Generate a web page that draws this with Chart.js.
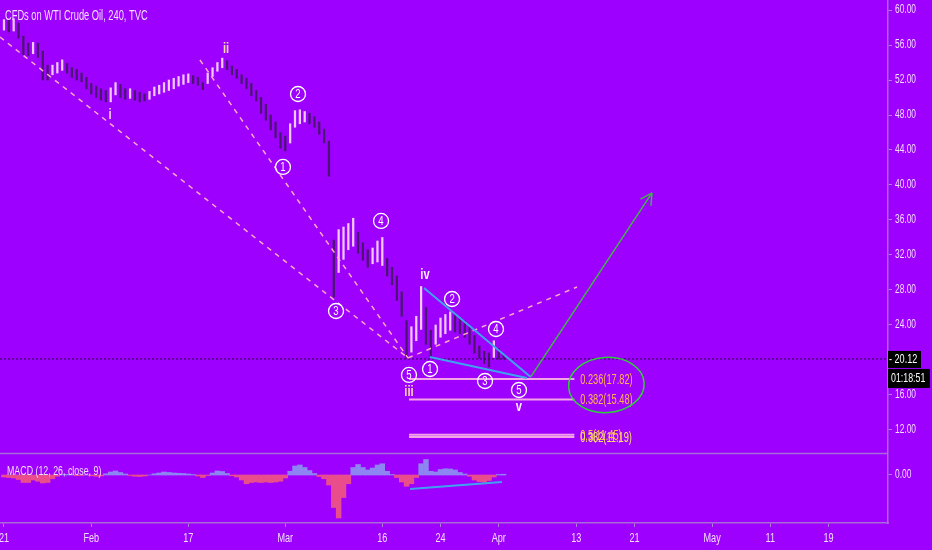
<!DOCTYPE html>
<html>
<head>
<meta charset="utf-8">
<script src="https://cdn.jsdelivr.net/npm/chart.js@4.4.1/dist/chart.umd.min.js"></script>
<style>
  html, body { margin: 0; padding: 0; background: #9d00ff; }
  canvas { display: block; }
</style>
</head>
<body>
<canvas id="myChart" width="932" height="550"></canvas>
<script>
// trading-day index (0 = Jan 21), two bars per day
const days = [
  0, 0.5, 1, 1.5, 2, 2.5, 3, 3.5, 4, 4.5,
  5, 5.5, 6, 6.5, 7, 7.5, 8, 8.5, 9, 9.5,
  10, 10.5, 11, 11.5, 12, 12.5, 13, 13.5, 14, 14.5,
  15, 15.5, 16, 16.5, 17, 17.5, 18, 18.5, 19, 19.5,
  20, 20.5, 21, 21.5, 22, 22.5, 23, 23.5, 24, 24.5,
  25, 25.5, 26, 26.5, 27, 27.5, 28, 28.5, 29, 29.5,
  30, 30.5, 31, 31.5, 32, 32.5, 33, 33.5, 34, 34.5,
  35, 35.5, 36, 36.5, 37, 37.5, 38, 38.5, 39, 39.5,
  40, 40.5, 41, 41.5, 42, 42.5, 43, 43.5, 44, 44.5,
  45, 45.5, 46, 46.5, 47, 47.5, 48, 48.5, 49, 49.5,
  50, 50.5, 51, 51.5
];
const lows = [
  57.7, 57.5, 57.6, 56.8, 54.9, 54.8, 55.0, 54.6, 52.0, 52.0,
  52.6, 52.8, 53.1, 52.8, 52.3, 52.0, 51.8, 51.0, 50.4, 50.0,
  49.7, 49.5, 49.5, 50.3, 50.0, 49.8, 49.9, 49.7, 49.5, 49.6,
  49.8, 50.2, 50.4, 50.6, 50.8, 51.0, 51.3, 51.5, 51.7, 51.6,
  51.4, 50.9, 51.6, 52.4, 53.0, 53.4, 53.2, 52.6, 52.2, 51.6,
  51.0, 50.2, 49.6, 48.2, 47.4, 46.3, 45.4, 44.2, 43.9, 44.8,
  46.6, 47.0, 47.2, 47.0, 46.6, 45.8, 44.8, 41.0, 27.2, 30.0,
  31.5, 32.6, 33.0, 32.2, 31.4, 30.6, 31.0, 31.2, 30.8, 29.6,
  28.6, 26.8, 25.0, 20.2, 20.9, 22.2, 23.5, 21.8, 20.4, 21.8,
  22.6, 23.0, 23.4, 23.2, 23.0, 22.6, 21.8, 20.8, 20.2, 19.6,
  19.2, 20.3, 20.1, 20.1
];
const highs = [
  58.9, 58.9, 59.0, 58.5, 57.0, 56.2, 56.3, 56.2, 55.3, 53.7,
  53.7, 54.0, 54.3, 53.9, 53.4, 53.2, 52.8, 52.3, 51.6, 51.3,
  51.0, 50.8, 51.1, 51.7, 51.5, 51.0, 51.0, 50.8, 50.6, 50.4,
  50.7, 51.2, 51.4, 51.7, 52.0, 52.2, 52.4, 52.6, 52.7, 52.5,
  52.3, 51.7, 52.8, 53.4, 54.0, 54.5, 54.2, 53.6, 53.2, 52.6,
  52.2, 51.6, 50.8, 50.0, 49.2, 48.0, 47.2, 46.0, 45.6, 47.0,
  48.5, 48.6, 48.4, 48.2, 47.8, 47.2, 46.4, 45.0, 33.7, 34.9,
  35.2, 35.6, 36.2, 34.6, 33.4, 32.6, 32.8, 33.6, 34.0, 31.6,
  30.6, 29.6, 27.8, 24.5, 23.8, 25.0, 28.4, 26.0, 23.4, 24.0,
  24.8, 25.2, 25.5, 25.2, 24.8, 24.5, 23.8, 22.8, 21.6, 21.0,
  20.8, 22.2, 21.3, 20.6
];
// MACD histogram (12, 26, close, 9)
const macdHist = [
  -0.08, -0.1, -0.12, -0.18, -0.3, -0.3, -0.2, -0.25, -0.32, -0.3,
  -0.15, -0.05, 0.02, 0.03, 0.02, -0.03, -0.02, 0.0, -0.03, -0.05,
  -0.04, 0.05, 0.12, 0.16, 0.1, 0.04, -0.02, -0.05, -0.06, -0.04,
  0.0, 0.05, 0.08, 0.12, 0.1, 0.08, 0.07, 0.06, 0.04, 0.02,
  -0.04, -0.1, -0.02, 0.08, 0.16, 0.14, 0.06, -0.03, -0.08, -0.2,
  -0.35, -0.3, -0.28, -0.3, -0.28, -0.3, -0.28, -0.25, -0.12, 0.15,
  0.36, 0.4, 0.3, 0.18, 0.06, -0.06, -0.15, -0.4, -1.3, -1.72,
  -0.9, -0.35, 0.3, 0.42, 0.3, 0.2, 0.28, 0.4, 0.45, 0.15,
  0.02, -0.1, -0.28, -0.45, -0.35, -0.1, 0.45, 0.62, 0.15, 0.12,
  0.22, 0.25, 0.24, 0.2, 0.1, 0.04, -0.05, -0.2, -0.26, -0.28,
  -0.22, -0.08, 0.02, 0.03
];

const tickDays = [0, 9, 19, 29, 39, 45, 51, 59, 65, 73, 79, 85];
const tickLabels = ['21', 'Feb', '17', 'Mar', '16', '24', 'Apr', '13', '21', 'May', '11', '19'];
const priceTicks = [60, 56, 52, 48, 44, 40, 36, 32, 28, 24, 16, 12];
const lastPrice = 20.12;
const countdown = '01:18:51';

// fibonacci levels (label, price)
const fibLevels = [
  ['0.236(17.82)', 17.82],
  ['0.382(15.48)', 15.48],
  ['0.5(11.45)', 11.45],
  ['0.382(11.19)', 11.19]
];
// elliott wave labels [day, price, text]
const circled = [
  [28.76, 42.06, '1'], [30.31, 50.4, '2'], [34.23, 25.6, '3'], [38.87, 35.89, '4'], [41.75, 18.29, '5'],
  [43.92, 18.97, '1'], [46.19, 26.97, '2'], [49.59, 17.6, '3'], [50.72, 23.54, '4'], [53.09, 16.57, '5']
];
const roman = [
  [10.93, 48.0, 'i', '#f6d2f2'], [22.89, 55.5, 'ii', '#ffd9b0'], [41.75, 16.3, 'iii', '#ffd9b0'],
  [43.4, 29.7, 'iv', '#fff0ff'], [53.09, 14.6, 'v', '#fff0ff']
];

const PX_MIN = -0.41, PX_MAX = 91.13;
const P_MIN = 1.371, P_MAX = 61.143;
const M_MIN = -1.92, M_MAX = 19;
const macdZero = P_MAX - (M_MAX / (M_MAX - M_MIN)) * (P_MAX - P_MIN);

const FONT = '"Liberation Sans", Arial, sans-serif';
const TXT = '#f3dcff';

const barColors = days.map((d, i) => {
  if (i === 0) return '#f2c9ff';
  const mid = (lows[i] + highs[i]) / 2, prev = (lows[i - 1] + highs[i - 1]) / 2;
  return mid >= prev ? '#f2c9ff' : '#4a1470';
});
const histColors = macdHist.map(v => v >= 0 ? '#8d86f2' : '#ea4d8c');

// tradingview uses a narrow face, squeeze the text horizontally
function narrowText(ctx, text, x, y, size, color, opts) {
  opts = opts || {};
  ctx.save();
  ctx.font = (opts.bold ? 'bold ' : '') + size + 'px ' + FONT;
  ctx.fillStyle = color;
  ctx.textBaseline = 'middle';
  ctx.textAlign = opts.align || 'left';
  ctx.translate(x, y);
  ctx.scale(opts.sx || 0.72, 1);
  ctx.fillText(text, 0, 0);
  ctx.restore();
}

const wavePlugin = {
  id: 'waves',
  afterDatasetsDraw(chart) {
    const ctx = chart.ctx;
    const { x, y, y2 } = chart.scales;
    const area = chart.chartArea;
    const px = d => x.getPixelForValue(d);
    const py = v => y.getPixelForValue(v);
    const line = (a, b, c, d, color, w, dash) => {
      ctx.save();
      ctx.strokeStyle = color; ctx.lineWidth = w; ctx.setLineDash(dash || []);
      ctx.beginPath(); ctx.moveTo(a, b); ctx.lineTo(c, d); ctx.stroke();
      ctx.restore();
    };

    // pane separator
    const sep = Math.round(y2.getPixelForValue(0.88)) + 0.5;
    line(area.left, sep, area.right, sep, '#a86bd6', 1.5);

    // last price dotted line
    line(area.left, py(lastPrice), area.right, py(lastPrice), '#2a0040', 1, [2, 2]);

    // dashed wave channel lines
    const dash = 'rgba(255,178,190,0.95)';
    line(px(-0.41), py(56.91), px(41.65), py(20.23), dash, 1.5, [5, 5]);
    line(px(20.2), py(54.29), px(41.65), py(20.23), dash, 1.5, [5, 5]);
    line(px(41.65), py(20.23), px(59.07), py(28.34), dash, 1.5, [5, 5]);

    // fibonacci lines and labels
    const fibColors = ['#ffb54d', '#ffb54d', '#ffc640', '#ffe070'];
    fibLevels.forEach(([label, v], i) => {
      line(px(41.75), py(v), px(58.8), py(v), '#f3a3e6', 2);
      narrowText(ctx, label, px(59.4), py(v) + 1, 14, fibColors[i], { sx: 0.66 });
    });

    // ending diagonal (blue)
    line(px(43.3), py(28.23), px(54.3), py(18.06), '#3fa2ee', 2);
    line(px(43.9), py(20.34), px(53.9), py(17.94), '#3fa2ee', 2);

    // green projection arrow
    const ax = px(54.3), ay = py(18.06), bx = px(66.8), by = py(39.09);
    line(ax, ay, bx, by, '#44b04c', 1.5);
    const ang = Math.atan2(by - ay, bx - ax);
    [0.5, -0.5].forEach(o => {
      line(bx, by, bx - 13 * Math.cos(ang + o), by - 13 * Math.sin(ang + o), '#44b04c', 1.5);
    });

    // hand drawn ellipse around fib targets
    ctx.save();
    ctx.strokeStyle = '#2fcf3a'; ctx.lineWidth = 1.5;
    ctx.beginPath();
    const ex = px(62.1), ey = py(17.14);
    ctx.ellipse(ex, ey, px(62.1) - px(58.2), py(17.14) - py(20.3), -0.06, 0, Math.PI * 2);
    ctx.stroke();
    ctx.restore();

    // circled sub-wave numbers
    circled.forEach(([d, v, t]) => {
      const cx = px(d), cy = py(v);
      ctx.save();
      ctx.strokeStyle = '#ffffff'; ctx.lineWidth = 1.3;
      ctx.beginPath(); ctx.arc(cx, cy, 7.5, 0, Math.PI * 2); ctx.stroke();
      ctx.restore();
      narrowText(ctx, t, cx, cy + 0.5, 12, '#ffffff', { align: 'center', sx: 0.8 });
    });

    // roman wave labels
    roman.forEach(([d, v, t, c]) => {
      narrowText(ctx, t, px(d), py(v), 14, c, { align: 'center', bold: true, sx: 0.8 });
    });

    // MACD divergence line
    line(px(41.86), y2.getPixelForValue(-0.56), px(51.34), y2.getPixelForValue(-0.28), '#3fa2ee', 2);

    // titles
    narrowText(ctx, 'CFDs on WTI Crude Oil, 240, TVC', 5, 16, 15, TXT, { sx: 0.62 });
    narrowText(ctx, 'MACD (12, 26, close, 9)', 7, 471, 13, TXT, { sx: 0.68 });
  },
  afterDraw(chart) {
    const ctx = chart.ctx;
    const { x, y } = chart.scales;
    const area = chart.chartArea;

    // axis labels from the scales' own ticks
    y.ticks.forEach(t => {
      narrowText(ctx, t.label, area.right + 7, y.getPixelForValue(t.value), 12, TXT, { sx: 0.7 });
    });
    x.ticks.forEach(t => {
      narrowText(ctx, t.label, x.getPixelForValue(t.value), area.bottom + 15, 13, TXT, { align: 'center', sx: 0.7 });
    });

    // last price + countdown boxes
    const cy = y.getPixelForValue(lastPrice);
    ctx.save();
    ctx.fillStyle = '#000000';
    ctx.fillRect(area.right, cy - 8, 33, 17);
    ctx.fillRect(area.right, cy + 10, 42, 19);
    ctx.restore();
    narrowText(ctx, '- ' + lastPrice.toFixed(2), area.right + 1, cy + 0.5, 13, '#ffffff', { sx: 0.7 });
    narrowText(ctx, countdown, area.right + 3, cy + 19.5, 13, '#ffffff', { sx: 0.68 });
  }
};

const ctx = document.getElementById('myChart').getContext('2d');
const myChart = new Chart(ctx, {
  type: 'bar',
  data: {
    datasets: [{
      label: 'WTI',
      data: days.map((d, i) => ({ x: d, y: [lows[i], highs[i]] })),
      yAxisID: 'y',
      backgroundColor: barColors,
      barThickness: 1.6,
      grouped: false
    }, {
      label: 'MACD',
      data: days.map((d, i) => ({ x: d, y: macdHist[i] })),
      yAxisID: 'y2',
      backgroundColor: histColors,
      barPercentage: 1,
      categoryPercentage: 1,
      grouped: false
    }]
  },
  options: {
    responsive: false,
    devicePixelRatio: 1,
    animation: false,
    layout: { padding: 0 },
    plugins: { legend: { display: false }, tooltip: { enabled: false } },
    scales: {
      x: {
        type: 'linear',
        offset: false,
        min: PX_MIN,
        max: PX_MAX,
        afterBuildTicks: s => { s.ticks = tickDays.map(v => ({ value: v })); },
        afterFit: s => { s.height = 27; },
        grid: { drawOnChartArea: false, offset: false, color: '#b27ad8', tickLength: 4 },
        border: { color: '#a86bd6', width: 1.5 },
        ticks: {
          display: false, autoSkip: false, maxRotation: 0,
          callback: v => tickLabels[tickDays.indexOf(v)]
        }
      },
      y: {
        position: 'right',
        min: P_MIN,
        max: P_MAX,
        afterBuildTicks: s => { s.ticks = priceTicks.concat([macdZero]).map(v => ({ value: v })); },
        afterFit: s => { s.width = 44; },
        grid: { drawOnChartArea: false, color: '#b27ad8', tickLength: 4 },
        border: { color: '#a86bd6', width: 1.5 },
        ticks: {
          display: false,
          callback: v => Math.abs(v - macdZero) < 0.01 ? '0.00' : v.toFixed(2)
        }
      },
      y2: {
        display: false,
        min: M_MIN,
        max: M_MAX
      }
    }
  },
  plugins: [wavePlugin]
});
</script>
</body>
</html>
